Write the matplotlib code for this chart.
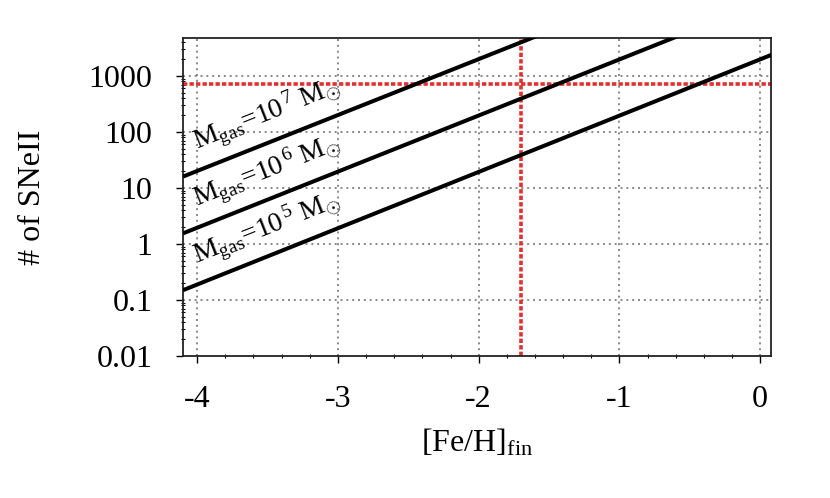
import matplotlib
matplotlib.use("Agg")
import matplotlib.pyplot as plt
from matplotlib.ticker import LogLocator, MultipleLocator, NullFormatter

plt.rcParams['font.family'] = ['Liberation Serif', 'DejaVu Serif']
plt.rcParams['mathtext.fontset'] = 'custom'
plt.rcParams['mathtext.rm'] = 'Liberation Serif'
plt.rcParams['mathtext.it'] = 'Liberation Serif'

# [Fe/H]_fin end points of each model line and number of SNeII there
feh = [-4.1, 0.1]
n_sn_1e5 = [0.15, 2500]
n_sn_1e6 = [1.55, 25000]
n_sn_1e7 = [16, 250000]
gas_exponents = [5, 6, 7]

# observed constraint (red dashed lines)
feh_obs = -1.7
n_sn_obs = 720

xticks = [-4, -3, -2, -1, 0]
xtick_labels = ['-4', '-3', '-2', '-1', '0']
yticks = [0.01, 0.1, 1, 10, 100, 1000]
ytick_labels = ['0.01', '0.1', '1', '10', '100', '1000']

fig = plt.figure(figsize=(8.3, 4.98), dpi=100)
ax = fig.add_axes([0.2205, 0.285, 0.709, 0.638])
ax.set_yscale('log')
ax.set_xlim(-4.1, 0.08)
ax.set_ylim(0.01, 4700)

# grid
for x in xticks:
    ax.axvline(x, color='#777777', lw=1.2, ls=(0, (1.2, 2.3)), zorder=1)
for y in yticks[1:]:
    ax.axhline(y, color='#777777', lw=1.2, ls=(0, (1.2, 2.3)), zorder=1)

# red constraint lines
ax.axhline(n_sn_obs, color='#e03030', lw=2.6, ls=(0, (1.2, 0.6)), zorder=2)
ax.axvline(feh_obs, color='#e03030', lw=2.6, ls=(0, (1.2, 0.6)), zorder=2)

series = [n_sn_1e5, n_sn_1e6, n_sn_1e7]
for n_sn, e in zip(series, gas_exponents):
    ax.plot(feh, n_sn, color='black', lw=2.9, solid_capstyle='butt', zorder=3)
    # label sits just above the line near its left end
    y_lab = n_sn[0] * 10 ** (-4.0 - feh[0]) * 2.4
    ax.text(-4.0, y_lab,
            r'M$_{\mathrm{gas}}$=10$^{\,%d}$ M$_{\odot}$' % e,
            fontsize=20, rotation=21.7, rotation_mode='anchor',
            ha='left', va='baseline', zorder=4)

ax.set_xticks(xticks, labels=xtick_labels)
ax.set_yticks(yticks, labels=ytick_labels)
ax.xaxis.set_minor_locator(MultipleLocator(0.2))
ax.yaxis.set_minor_locator(LogLocator(base=10, subs=range(2, 10), numticks=20))
ax.yaxis.set_minor_formatter(NullFormatter())
ax.tick_params(which='major', direction='out', length=5, width=1, labelsize=23)
ax.tick_params(axis='x', which='major', pad=16)
ax.tick_params(axis='y', which='major', pad=17)
ax.tick_params(which='minor', direction='inout', length=3, width=0.8)
ax.tick_params(top=False, right=False, which='both')

for s in ax.spines.values():
    s.set_color('#222222')
    s.set_linewidth(1.3)

ax.set_xlabel(r'[Fe/H]$_{\mathrm{fin}}$', fontsize=23, labelpad=9)
ax.set_ylabel('# of SNeII', fontsize=23, labelpad=30)

fig.savefig('out.png', dpi=100)
